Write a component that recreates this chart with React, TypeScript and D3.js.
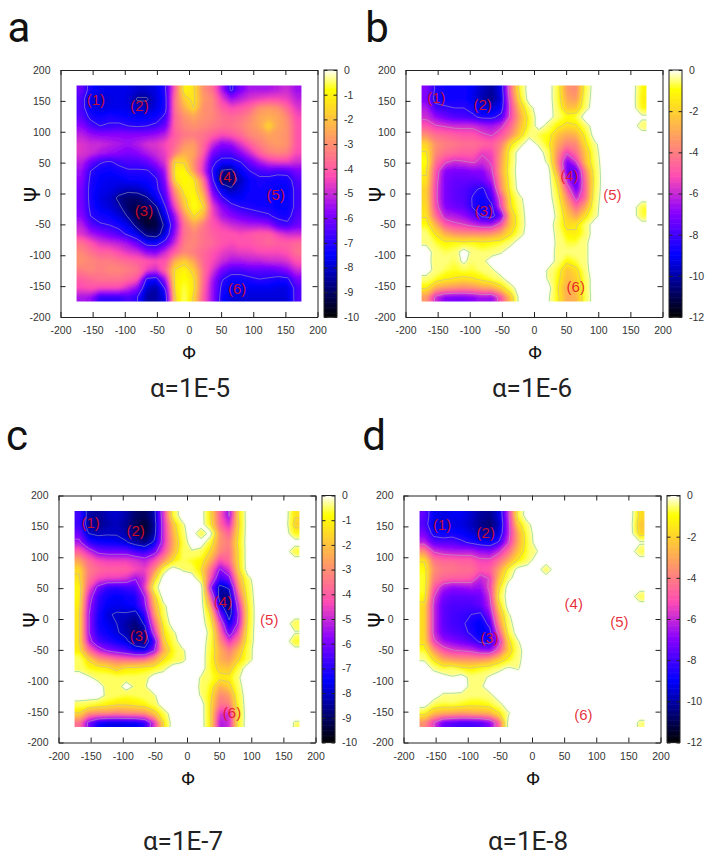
import * as d3 from 'd3';
import { useEffect, useRef } from 'react';

// empty bins (no sampling) sit just above the top of the colour scale
const _ = 0.6;

const titles = ['α=1E-5', 'α=1E-6', 'α=1E-7', 'α=1E-8'];
const letters = ['a', 'b', 'c', 'd'];
const axisTicks = [-200, -150, -100, -50, 0, 50, 100, 150, 200];
const labelNames = ['(1)', '(2)', '(3)', '(4)', '(5)', '(6)'];

// rows run from psi=+175 down to -175, columns from phi=-175 to +175
const gridA = [
  [-6.2,-7.4,-7.7,-7.7,-7.7,-7.8,-8,-8,-7.8,-7,-4,-1,-1.4,-3,-3.6,-5.4,-7.2,-6,-5.4,-5.4,-5.4,-5.2,-5,-5.6],
  [-6.6,-7.8,-8.1,-7.9,-7.7,-7.9,-8.6,-8.6,-7.9,-7.2,-3.6,-1.8,-1.3,-2.8,-3.2,-4.6,-5.6,-5.2,-4.8,-4.6,-4.4,-4.4,-4.6,-5.2],
  [-6.6,-7.7,-7.9,-7.8,-7.7,-7.8,-8.1,-8.2,-7.8,-7.2,-3.6,-2.4,-1.5,-3,-3.2,-4,-4.4,-4.2,-3.8,-3,-2.8,-3,-3.8,-4.8],
  [-6.4,-7.2,-7.4,-7.2,-7.4,-7.5,-7.6,-7.6,-7.4,-6.8,-3.8,-3,-2.6,-3,-3.2,-3.6,-3.8,-3.6,-3.2,-2.6,-2.4,-2.6,-3.2,-4.4],
  [-5.8,-6.6,-7,-6.9,-6.8,-7,-7.1,-7,-6.8,-6.2,-3.8,-3.2,-3,-3.2,-3.4,-3.6,-3.6,-3.4,-3,-2.6,-1.6,-2.6,-3,-4.2],
  [-5.2,-5.6,-5.8,-5.8,-5.8,-5.8,-5.8,-5.8,-5.6,-5.2,-4,-3.5,-3.4,-3.6,-4,-4.4,-4.2,-3.8,-3.2,-3,-2.6,-2.8,-3,-4.2],
  [-4.8,-5,-5,-5.2,-5.4,-5.6,-5.3,-4.9,-4.8,-4.4,-3.8,-3,-2.8,-3.8,-5,-5.8,-5.6,-4.8,-4,-3.4,-3,-2.8,-3,-4.2],
  [-4.8,-5,-5.4,-5.6,-5.8,-6,-5.8,-5.4,-5,-4.6,-3.4,-2.4,-2.6,-4,-6,-6.6,-6.6,-5.8,-5,-4,-3.4,-3.2,-3.4,-4.4],
  [-5.2,-6.2,-6.9,-7.1,-6.8,-6.6,-6.6,-6.3,-5.6,-4.8,-1.5,-1.6,-3,-4.6,-6.8,-7.3,-7.3,-7,-6.2,-5.4,-4.8,-4.6,-4.6,-5],
  [-5.6,-7,-7.4,-7.5,-7.3,-7.1,-7.1,-7.1,-6.6,-5.4,-1.1,-0.9,-2.8,-4.8,-7.1,-8.6,-8.8,-7.6,-7,-6.7,-6.5,-6.7,-6.6,-6],
  [-5.8,-7.2,-7.6,-7.7,-7.7,-7.5,-7.5,-7.4,-7.1,-5.8,-1.4,-0.9,-1.2,-3.5,-6.8,-9,-9,-8.2,-7.5,-7.2,-7.3,-7.4,-7.4,-6.5],
  [-6,-7.3,-7.7,-7.8,-8,-8.2,-8.1,-7.8,-7.2,-6.2,-2.8,-1,-1,-2.8,-6.2,-7.8,-8.4,-7.9,-7.5,-7.3,-7.4,-7.6,-7.6,-6.7],
  [-6,-7.3,-7.8,-8,-8.7,-9,-9,-8.6,-7.6,-6.6,-3.6,-1.6,-0.8,-2,-5.4,-6.8,-7.6,-7.6,-7.4,-7.4,-7.4,-7.6,-7.6,-6.7],
  [-6,-7.2,-7.7,-7.9,-8.3,-9.1,-9.3,-9.1,-8.6,-7,-4.5,-2,-0.7,-1.4,-4.6,-5.8,-6.6,-7,-7.2,-7.3,-7.3,-7.6,-7.6,-6.7],
  [-5.8,-7,-7.3,-7.5,-7.9,-8.6,-9.3,-9.6,-9.2,-7.6,-5.6,-3,-1.4,-2.2,-4.4,-5.4,-5.8,-6.2,-6.4,-6.7,-6.9,-7.2,-7.3,-6.5],
  [-5.2,-6.4,-6.9,-7,-7.3,-7.8,-8.9,-9.6,-9.4,-8.2,-6,-3.6,-2.6,-3.4,-4.2,-4.6,-5,-5.2,-5.4,-5.4,-5.6,-6.6,-6.8,-6.2],
  [-4.8,-5.4,-5.8,-6.2,-6.6,-7.2,-7.8,-8.8,-9,-7.8,-5.6,-3.6,-3.2,-3.6,-4,-4.2,-4.2,-4.4,-4.2,-4,-4,-4.6,-5,-5],
  [-3.6,-4.2,-4.8,-5,-5.2,-5.6,-6.4,-7.4,-7.4,-6.6,-5,-3.4,-3.2,-3.6,-3.8,-4.2,-4.4,-4.2,-4.2,-4,-3.8,-4,-4,-3.8],
  [-3.2,-3.6,-4,-4,-4.4,-4.8,-5,-5.8,-6,-5,-4,-3.2,-3.4,-3.8,-4.2,-4.6,-4.8,-4.6,-4.6,-4.4,-4.4,-4.4,-4.2,-3.6],
  [-3,-3.2,-3.4,-3.4,-3.6,-3.8,-4,-4.2,-4.4,-4.2,-2.4,-1.8,-2.6,-3.8,-4.4,-5,-5.4,-5.4,-5.2,-5.2,-5,-5,-4.8,-4.2],
  [-3.4,-3.2,-3.4,-3.2,-3.2,-3.4,-3.6,-4.6,-5,-3.8,-1.4,-1,-1.8,-3.6,-4.8,-6,-6.6,-6.6,-6.4,-6.4,-6.4,-6.2,-5.8,-5],
  [-4,-3.8,-3.6,-3.6,-3.6,-3.8,-4.2,-7.2,-7.4,-5.4,-1.2,-0.8,-1.4,-3.6,-5.4,-6.9,-7.4,-7.4,-7.2,-7,-7.1,-7.3,-7.2,-6],
  [-4.4,-4.2,-4.4,-4.4,-4.4,-5,-5.8,-8,-8.4,-6.8,-1.3,-0.6,-1.3,-3.8,-5.6,-7.2,-7.7,-7.7,-7.7,-7.7,-7.7,-7.8,-7.8,-6.6],
  [-5.4,-5.6,-6.9,-6.9,-6.9,-6.6,-7,-8.4,-8.4,-7.6,-1.6,-0.5,-1.6,-4,-5.6,-7.4,-7.9,-7.9,-7.9,-7.9,-7.9,-7.9,-7.9,-6.6],
];

const gridB = [
  [-7,-8.6,-8.8,-8.8,-8.8,-9.2,-9.8,-10.2,-9.2,-4.5,-1,_,_,_,-0.8,-3.4,-3.8,-0.8,_,_,_,_,_,-1.2],
  [-7.2,-8.8,-9,-8.8,-8.8,-9.3,-10,-10.4,-9.4,-5,-1.5,_,_,_,-0.8,-3,-3.4,-0.6,_,_,_,_,_,-1.4],
  [-6.4,-8,-8.2,-8.4,-8.4,-8.8,-9.4,-9.6,-9,-5.4,-2.4,-0.4,_,_,-0.6,-2.4,-2.4,-0.4,_,_,_,_,_,-1.2],
  [-6,-6.8,-7.4,-7.8,-7.9,-8.2,-8.7,-8.7,-8,-5.4,-3,-1,_,_,-0.5,-1,-0.8,_,_,_,_,_,_,0.3],
  [-5,-5.6,-5.8,-6,-6,-6,-6.4,-6.6,-6,-4.6,-2.6,-1,_,-0.5,-1.2,-1.8,-1.6,-0.5,_,_,_,_,_,-0.6],
  [-3.6,-4.4,-4.6,-4.8,-5,-5,-5.5,-5.8,-5,-3.8,-2,-0.3,-0.8,-1,-2.4,-3,-2.8,-1.2,_,_,_,_,_,_],
  [-2,-3.6,-4,-4.2,-4.4,-4.4,-4.6,-4.8,-4,-1.6,-0.4,_,-0.2,-1.2,-3,-4,-3.8,-1.6,-0.2,_,_,_,_,_],
  [-1.4,-3.8,-4.4,-4.6,-4.8,-4.8,-5.6,-5.4,-3.4,-0.8,_,_,_,-0.6,-3.6,-5.6,-4.4,-2.4,-0.4,_,_,_,_,_],
  [-0.9,-4.4,-5.5,-6,-5.8,-5.6,-6,-5.6,-3.2,-0.8,_,_,_,-0.2,-3.8,-7.2,-5.8,-2.4,-0.6,_,_,_,_,_],
  [-1.4,-5,-7,-7.2,-7.2,-7,-7,-5.8,-3,-0.6,_,_,_,_,-3,-7.4,-7.8,-3.8,-0.8,_,_,_,_,_],
  [-1.6,-5.2,-7.2,-7.5,-7.5,-7.6,-7.4,-6.4,-3.4,-0.8,_,_,_,_,-1.8,-6.2,-8,-4.4,-0.9,_,_,_,_,_],
  [-2,-5.4,-7.2,-7.6,-7.8,-8.2,-8.6,-7.4,-3.6,-1,_,_,_,_,-1.2,-4.8,-7.4,-4.6,-0.8,_,_,_,_,_],
  [-2,-5.4,-7.2,-7.6,-7.8,-8.5,-8.9,-8,-5,-1.4,-0.2,_,_,_,-0.8,-3.6,-6.2,-4.4,-0.6,_,_,_,_,_],
  [-1.8,-5.2,-7,-7.4,-7.6,-8.5,-9,-8.6,-5.4,-1.6,-0.4,_,_,_,-0.4,-2.8,-4.6,-3,-0.4,_,_,_,_,-0.8],
  [-1.6,-4.4,-6.2,-6.4,-6.8,-7.6,-8.6,-8.8,-7.4,-2.4,-0.6,_,_,_,-0.2,-2.2,-3.2,-1.6,-0.3,_,_,_,_,-0.8],
  [-1,-2.8,-4.8,-5.4,-5.6,-6,-6.4,-6.4,-5,-2.4,-0.7,_,_,_,-0.5,-1.8,-1.6,-0.5,_,_,_,_,_,_],
  [-0.4,-1.6,-2.8,-3.4,-3.6,-3.6,-3.6,-3.4,-2.8,-1.6,-0.4,_,_,_,-0.3,-1.2,-1.4,-0.6,_,_,_,_,_,_],
  [-0.2,-0.8,-1.2,-1,-1.2,-1,-1.2,-1,-0.9,-0.3,_,_,_,_,-0.2,-0.8,-0.8,-0.2,_,_,_,_,_,_],
  [_,-0.5,-0.7,-0.6,_,-0.4,-0.6,-0.5,-0.1,_,_,_,_,_,-0.3,-0.5,-0.4,-0.2,_,_,_,_,_,_],
  [_,-0.6,-0.5,-0.7,0.3,-0.6,-0.3,_,_,_,_,_,_,_,-0.3,-1.2,-0.8,-0.2,_,_,_,_,_,_],
  [_,-0.4,-0.7,-0.9,-0.7,-0.8,-0.5,-0.2,_,_,_,_,_,-0.1,-0.9,-2.4,-1.8,-0.3,_,_,_,_,_,_],
  [-0.4,-0.9,-1.4,-1.6,-1.8,-1.6,-1.2,-0.8,-0.3,_,_,_,_,-0.1,-1.1,-2.6,-2.2,-0.6,_,_,_,_,_,_],
  [-1.4,-3,-3.4,-3.6,-3.8,-3.6,-3.2,-3,-2,-0.5,_,_,_,_,-1.4,-3,-2.4,-0.6,_,_,_,_,_,_],
  [-3.4,-6,-7,-7.2,-7.2,-7,-6.6,-6.8,-5,-2.4,_,_,_,0.2,-1.2,-3,-2.8,-0.7,_,_,_,_,_,_],
];

const gridC = [
  [-6.8,-8.4,-8.6,-8.2,-8,-8.4,-9,-9.2,-8.4,-4.8,-0.8,_,_,_,-1.4,-4,-5.8,-1.4,_,_,_,_,_,-1.4],
  [-6.8,-8.6,-8.8,-8.4,-8.2,-8.6,-9.2,-9.6,-8.6,-5,-2,-0.2,_,_,-1.2,-3.8,-5,-1.6,_,_,_,_,_,-1.8],
  [-6.2,-8,-8.2,-8.1,-8.1,-8.4,-9,-9.5,-8.5,-5,-2.4,-0.4,_,-0.8,0.5,-3,-4,-1.4,_,_,_,_,_,-1],
  [-5.4,-7,-7.4,-7.5,-7.6,-7.9,-8.4,-8.8,-7.8,-5,-2.6,-0.8,_,_,-0.8,-3,-3.4,-1.2,_,_,_,_,_,_],
  [-4,-5,-6,-6.2,-6.2,-6.2,-6.8,-7,-6.2,-4.4,-2.4,-0.6,-0.1,-0.4,-1.6,-3.2,-3.6,-1.4,_,_,_,_,_,-0.8],
  [-2.6,-3.8,-4.4,-4.6,-4.6,-4.6,-4.8,-5.2,-4.4,-3,-1.4,-0.6,-0.8,-1,-2.4,-4.4,-3.8,-1.4,_,_,_,_,_,_],
  [-1.6,-3.4,-3.8,-4,-4,-4,-4.4,-4.6,-3.2,-0.6,_,-0.1,-0.4,-1.4,-3.6,-5.8,-4.8,-1.6,_,_,_,_,_,_],
  [-1.4,-3.6,-4.4,-4.6,-4.6,-4.8,-5.6,-5,-1.8,_,_,_,_,-0.7,-4.2,-6.8,-6,-2.4,-0.3,_,_,_,_,_],
  [-1,-4.2,-6,-6.9,-7,-6.8,-6.6,-4.6,-0.4,_,_,_,_,_,-5.6,-8.4,-7.8,-3,-0.6,_,_,_,_,_],
  [-1,-5,-6.8,-7.4,-7.6,-7.4,-7.2,-5.6,-1.8,_,_,_,_,_,-4,-8.6,-8.8,-4,-0.8,_,_,_,_,_],
  [-1.2,-5.4,-7,-7.6,-7.7,-7.6,-7.4,-6,-2.4,-0.2,_,_,_,_,-2.6,-7.6,-9,-5,-1.1,_,_,_,_,_],
  [-1.4,-5.6,-7.2,-7.9,-8.1,-8.1,-8.4,-7,-3,-0.4,_,_,_,_,-1.4,-5.8,-8.6,-5.6,-1.2,_,_,_,_,_],
  [-1.4,-5.6,-7.3,-7.7,-8,-8.4,-8.9,-7.8,-4,-1,_,_,_,_,-0.8,-4.4,-7.6,-5.4,-1.1,_,_,_,_,-0.6],
  [-1.4,-5.6,-7.1,-7.5,-7.9,-8.3,-9,-8.6,-5,-1.4,-0.2,_,_,_,-0.3,-3.6,-6.4,-4.4,-0.9,_,_,_,_,0.1],
  [-1.4,-5.2,-6.6,-7,-7.4,-7.8,-8.6,-8.8,-6.8,-1.8,-0.6,_,_,_,-0.5,-3,-4.8,-3.4,-0.8,_,_,_,_,-0.9],
  [-1.2,-3.6,-5,-5.8,-6.2,-6.6,-7.4,-7.6,-5.8,-2.6,-0.9,-0.2,_,_,-0.7,-2.4,-3.4,-2.2,-0.5,_,_,_,_,_],
  [-0.3,-1.6,-2.8,-3.2,-3.6,-3.8,-3.8,-3.6,-2.8,-1.4,-0.7,-0.3,_,_,-0.8,-2.4,-2.8,-1.6,-0.5,_,_,_,_,_],
  [-0.3,-0.9,-1,-1.2,-1.8,-1.2,-1.2,-1,-0.9,-0.3,_,_,_,_,-0.8,-1.8,-2,-0.6,_,_,_,_,_,_],
  [_,0.2,-0.4,-0.3,-0.5,-0.5,-0.5,-0.4,_,_,_,_,_,-0.1,-0.6,-1.2,-1.2,-0.1,_,_,_,_,_,_],
  [_,_,_,-0.4,-0.5,0.5,-0.2,-0.1,_,_,_,_,_,-0.2,-0.9,-2.4,-1.8,-0.3,_,_,_,_,_,_],
  [_,_,_,-0.3,-0.5,-0.7,-0.6,-0.4,-0.1,_,_,_,_,-0.1,-1.2,-3.2,-2.8,-0.6,_,_,_,_,_,_],
  [-0.4,-0.6,-0.9,-1.1,-1.4,-1.4,-1.2,-1,-0.5,_,_,_,_,_,-1.4,-3.6,-3.4,-0.8,_,_,_,_,_,_],
  [-1.6,-3,-3.2,-3.2,-3.4,-3.2,-3.2,-3,-2,-0.6,_,_,_,_,-1.4,-4.8,-5,-1,_,_,_,_,_,_],
  [-3.6,-6,-7.3,-7.8,-7.8,-7.7,-7.6,-7,-4.8,-1.4,_,_,_,_,-1.3,-5.4,-5,-0.9,_,_,_,_,_,-0.1],
];

const gridD = [
  [-7.6,-9.2,-9.4,-9.2,-9.2,-9.6,-10.2,-10.4,-9.4,-6,-0.9,_,_,_,_,_,_,_,_,_,_,_,_,-1.8],
  [-7.8,-9.4,-9.6,-9.4,-9.4,-9.8,-10.4,-10.8,-9.8,-6.2,-2,-0.3,_,_,_,_,_,_,_,_,_,_,_,-2.4],
  [-7.2,-8.8,-9,-8.8,-9,-9.4,-10,-10.2,-9.4,-6.2,-3,-0.7,_,_,_,_,_,_,_,_,_,_,_,-2],
  [-6.2,-7.6,-7.8,-7.8,-8.2,-8.6,-9,-9.2,-8.2,-5.8,-3,-0.9,_,_,_,_,_,_,_,_,_,_,_,0.2],
  [-3.6,-5.8,-6.2,-6.4,-6.4,-6.4,-6.8,-7,-6,-4.4,-2.4,-0.8,-0.1,_,_,_,_,_,_,_,_,_,_,-0.8],
  [-1.6,-4.2,-4.6,-4.6,-4.8,-4.8,-5.4,-5.4,-4.4,-3,-1.4,-0.6,_,_,_,_,_,_,_,_,_,_,_,_],
  [-1,-3.6,-4.2,-4.2,-4.4,-4.4,-5,-4.8,-3.2,-1,0.4,_,_,-0.8,_,_,_,_,_,_,_,_,_,_],
  [-0.8,-4,-4.6,-4.8,-4.8,-5,-6.2,-5.6,-2.4,-0.3,_,_,_,_,_,_,_,_,_,_,_,_,_,_],
  [-0.8,-4.8,-6.4,-6.9,-6.8,-6.6,-6.8,-5.4,-1.6,_,_,_,_,_,_,_,_,_,_,_,_,_,_,_],
  [-1,-5.6,-7.2,-7.6,-7.6,-7.6,-7.4,-5.8,-1,_,_,_,_,_,_,_,_,_,_,_,_,_,_,-0.8],
  [-1.8,-6,-7.6,-7.9,-7.9,-7.9,-7.6,-6.2,-1.8,_,_,_,_,_,_,_,_,_,_,_,_,_,_,_],
  [-1.8,-6,-7.6,-8,-8.2,-8.4,-8.6,-7,-2.8,-0.1,_,_,_,_,_,_,_,_,_,_,_,_,_,_],
  [-1.8,-6,-7.6,-8,-8.2,-8.8,-9.2,-8,-3.6,-0.4,_,_,_,_,_,_,_,_,_,_,_,_,_,_],
  [-1.8,-6,-7.4,-7.8,-8,-8.6,-9.2,-8.8,-4.8,-0.9,_,_,_,_,_,_,_,_,_,_,_,_,_,_],
  [-1.8,-5.4,-6.6,-7,-7.4,-7.8,-8.6,-9,-6.2,-1.8,-0.1,_,_,_,_,_,_,_,_,_,_,_,_,_],
  [-0.9,-3.4,-5,-5.6,-5.8,-6,-6.6,-6.8,-5,-2.2,-0.4,_,_,_,_,_,_,_,_,_,_,_,_,_],
  [-0.1,-1.6,-3,-3.4,-3.6,-3.6,-3.6,-3.2,-2.2,-1.2,-0.3,_,_,_,_,_,_,_,_,_,_,_,_,_],
  [_,-0.2,-0.9,-0.6,-1.2,-1.4,-1,-0.8,-0.3,0.2,-0.1,_,_,_,_,_,_,_,_,_,_,_,_,_],
  [_,_,_,0.1,_,-0.4,-0.4,0.2,_,_,_,_,_,_,_,_,_,_,_,_,_,_,_,_],
  [_,_,_,_,_,-0.3,-0.2,_,_,_,_,_,_,_,_,_,_,_,_,_,_,_,_,_],
  [_,_,-0.2,-0.2,-0.3,-0.5,-0.5,-0.3,_,_,_,_,_,_,_,_,_,_,_,_,_,_,_,_],
  [_,-0.7,-0.9,-0.8,-1,-1.2,-1.2,-1,-0.3,_,_,_,_,_,_,_,_,_,_,_,_,_,_,_],
  [-1.2,-2.6,-3,-3.2,-3.4,-3.2,-3,-2.8,-1.6,-0.1,_,_,_,_,_,_,_,_,_,_,_,_,_,_],
  [-3.6,-5.6,-7.4,-7.8,-8,-8,-7.8,-7,-4.6,_,_,_,_,_,_,_,_,_,_,_,_,_,_,-0.2],
];

// contour levels gnuplot drew on each panel
const levelsA = [-1.5, -7, -8.5];
const levelsB = [0, -1.5, -5.7, -8.4];
const levelsC = [0, -1.5, -5.7, -8];
const levelsD = [0, -1.5, -5.7, -8.4];

const minA = -10;
const minB = -12;
const barTicksA = [0, -1, -2, -3, -4, -5, -6, -7, -8, -9, -10];
const barTicksB = [0, -2, -4, -6, -8, -10, -12];

// label anchor points in (phi, psi)
const labelPhiA = [-145, -77, -70, 60, 135, 75];
const labelPsiA = [152, 142, -28, 27, -3, -155];
const labelPhiB = [-152, -80, -78, 55, 122, 65];
const labelPsiB = [155, 143, -28, 28, -2, -152];
const labelPhiC = [-150, -80, -75, 56, 128, 70];
const labelPsiC = [155, 143, -28, 28, -2, -152];
const labelPhiD = [-140, -72, -66, 65, 136, 80];
const labelPsiD = [152, 140, -30, 25, -5, -155];

const panels = [
  { grid: gridA, levels: levelsA, min: minA, barTicks: barTicksA, phi: labelPhiA, psi: labelPsiA, x0: 60.5, y0: 70, bar: 324, letter: [19, 30], title: [190, 388], xl: 189, yl: 33 },
  { grid: gridB, levels: levelsB, min: minB, barTicks: barTicksB, phi: labelPhiB, psi: labelPsiB, x0: 405.5, y0: 70, bar: 669, letter: [377, 30], title: [532, 388], xl: 535, yl: 378 },
  { grid: gridC, levels: levelsC, min: minA, barTicks: barTicksA, phi: labelPhiC, psi: labelPsiC, x0: 58.5, y0: 495.5, bar: 322, letter: [17, 438], title: [183, 841], xl: 188, yl: 32 },
  { grid: gridD, levels: levelsD, min: minB, barTicks: barTicksB, phi: labelPhiD, psi: labelPsiD, x0: 403.5, y0: 495.5, bar: 667, letter: [374, 438], title: [528, 841], xl: 533, yl: 377 },
];

const W = 257;
const H = 247;
const barW = 13;
const uiFont = 'Roboto, sans-serif';
const tickFont = '"Liberation Sans", Arial, sans-serif';
const tickColor = '#333';

const clamp = (v: number) => Math.max(0, Math.min(1, v));
// gnuplot rgbformulae 30,31,32
const palette = (t: number) => {
  const r = clamp(t / 0.32 - 0.78125);
  const g = clamp(2 * t - 0.84);
  const b = clamp(t < 0.25 ? 4 * t : t < 0.92 ? -2 * t + 1.84 : t / 0.08 - 11.5);
  return d3.rgb(r * 255, g * 255, b * 255).formatHex();
};

export default function App() {
  const svgRef = useRef<SVGSVGElement>(null);

  useEffect(() => {
    const svg = d3.select(svgRef.current);
    svg.selectAll('*').remove();

    // the map was a resampled raster, soften the contour facets the same way
    svg.append('filter').attr('id', 'soft')
      .append('feGaussianBlur').attr('stdDeviation', 1.7);

    panels.forEach((p, i) => {
      const g = svg.append('g');
      const x = d3.scaleLinear().domain([-200, 200]).range([p.x0, p.x0 + W]);
      const y = d3.scaleLinear().domain([-200, 200]).range([p.y0 + H, p.y0]);
      const n = p.grid.length;
      // one ring of repeated edge bins so the contours run straight off the map
      const gx = d3.scaleLinear().domain([1, n + 1]).range([x(-175), x(175)]);
      const gy = d3.scaleLinear().domain([1, n + 1]).range([y(175), y(-175)]);
      const path = d3.geoPath(d3.geoTransform({
        point(px, py) { this.stream.point(gx(px), gy(py)); },
      }));

      const padded = [p.grid[0], ...p.grid, p.grid[n - 1]]
        .map(row => [row[0], ...row, row[n - 1]]);
      // d3.contours keeps values >= threshold, so work on the negated grid
      const flat = padded.flat().map(v => -v);
      const contours = d3.contours().size([n + 2, n + 2]);
      const color = d3.scaleLinear().domain([p.min, 0]).range([0, 1]);

      const clipId = `clip-${i}`;
      g.append('clipPath').attr('id', clipId).append('rect')
        .attr('x', gx(1)).attr('y', gy(1))
        .attr('width', gx(n + 1) - gx(1)).attr('height', gy(n + 1) - gy(1));

      // panels with empty bins start hard at yellow, there is no fade to white
      const floor = p.levels[0] === 0 ? 0.5 : 0;
      const steps = d3.range(0, -p.min + 0.01, 0.1);
      g.append('g').attr('clip-path', `url(#${clipId})`)
        .append('g').attr('filter', 'url(#soft)').selectAll('path')
        .data(contours.thresholds(steps)(flat))
        .join('path')
        .attr('d', d => path(d))
        .attr('fill', d => palette(color(-Math.max(d.value, floor))));

      g.append('g').attr('clip-path', `url(#${clipId})`).selectAll('path')
        .data(contours.thresholds(p.levels.map(l => -l))(flat))
        .join('path')
        .attr('d', d => path(d))
        .attr('fill', 'none')
        .attr('stroke', d => (d.value === 0 ? '#98d8a8' : '#b8b8b8'))
        .attr('stroke-opacity', d => (d.value === 0 ? 1 : 0.6))
        .attr('stroke-width', 0.8);

      // frame and inward ticks on all four sides
      const styleAxis = (sel: any) => {
        sel.selectAll('text')
          .attr('font-family', tickFont).attr('font-size', 10.5).attr('fill', tickColor);
        sel.selectAll('line').attr('stroke', '#222');
        sel.select('.domain').attr('stroke', '#222');
      };
      const fmt = (d: any) => String(d);
      g.append('g').attr('transform', `translate(0,${p.y0 + H})`)
        .call(d3.axisBottom(x).tickValues(axisTicks).tickFormat(fmt).tickSizeInner(-5).tickSizeOuter(0).tickPadding(10))
        .call(styleAxis);
      g.append('g').attr('transform', `translate(0,${p.y0})`)
        .call(d3.axisTop(x).tickValues(axisTicks).tickFormat(() => '').tickSizeInner(-5).tickSizeOuter(0))
        .call(styleAxis);
      g.append('g').attr('transform', `translate(${p.x0},0)`)
        .call(d3.axisLeft(y).tickValues(axisTicks).tickFormat(fmt).tickSizeInner(-5).tickSizeOuter(0).tickPadding(10))
        .call(styleAxis);
      g.append('g').attr('transform', `translate(${p.x0 + W},0)`)
        .call(d3.axisRight(y).tickValues(axisTicks).tickFormat(() => '').tickSizeInner(-5).tickSizeOuter(0))
        .call(styleAxis);

      // colour bar
      const barY = d3.scaleLinear().domain([p.min, 0]).range([p.y0 + H, p.y0]);
      const barSteps = d3.range(p.min, 0, -p.min / 200);
      g.append('g').selectAll('rect')
        .data(barSteps)
        .join('rect')
        .attr('x', p.bar)
        .attr('width', barW)
        .attr('y', d => barY(d - p.min / 200))
        .attr('height', H / 200 + 0.6)
        .attr('fill', d => palette(color(d)));
      g.append('rect')
        .attr('x', p.bar).attr('y', p.y0).attr('width', barW).attr('height', H)
        .attr('fill', 'none').attr('stroke', '#222');
      g.append('g').attr('transform', `translate(${p.bar + barW},0)`)
        .call(d3.axisRight(barY).tickValues(p.barTicks).tickFormat(fmt).tickSizeInner(-3.5).tickSizeOuter(0).tickPadding(7))
        .call(styleAxis)
        .call((s: any) => s.select('.domain').remove());
      g.append('g').attr('transform', `translate(${p.bar},0)`)
        .call(d3.axisLeft(barY).tickValues(p.barTicks).tickFormat(() => '').tickSizeInner(-3.5).tickSizeOuter(0))
        .call(styleAxis)
        .call((s: any) => s.select('.domain').remove());

      // well labels
      g.append('g').selectAll('text')
        .data(labelNames)
        .join('text')
        .attr('x', (_d, k) => x(p.phi[k]))
        .attr('y', (_d, k) => y(p.psi[k]) + 5)
        .attr('text-anchor', 'middle')
        .attr('font-family', tickFont)
        .attr('font-size', 15)
        .attr('fill', '#e3101e')
        .attr('fill-opacity', 0.88)
        .text(d => d);

      g.append('text')
        .attr('x', p.xl).attr('y', p.y0 + H + 42)
        .attr('text-anchor', 'middle')
        .attr('font-family', uiFont).attr('font-size', 19).attr('fill', '#111')
        .text('Φ');
      g.append('text')
        .attr('transform', `translate(${p.yl + 7},${p.y0 + H / 2 + 1}) rotate(-90)`)
        .attr('text-anchor', 'middle')
        .attr('font-family', uiFont).attr('font-size', 22).attr('fill', '#111')
        .text('Ψ');

      g.append('text')
        .attr('x', p.title[0]).attr('y', p.title[1] + 9)
        .attr('text-anchor', 'middle')
        .attr('font-family', uiFont).attr('font-size', 26).attr('fill', '#222')
        .text(titles[i]);
      g.append('text')
        .attr('x', p.letter[0]).attr('y', p.letter[1] + 12)
        .attr('text-anchor', 'middle')
        .attr('font-family', uiFont).attr('font-size', 42).attr('fill', '#111')
        .text(letters[i]);
    });
  }, []);

  return (
    <svg
      ref={svgRef}
      width={710}
      height={857}
      viewBox="0 0 710 857"
      style={{ position: 'absolute', left: 0, top: 0, background: '#fff' }}
    />
  );
}
